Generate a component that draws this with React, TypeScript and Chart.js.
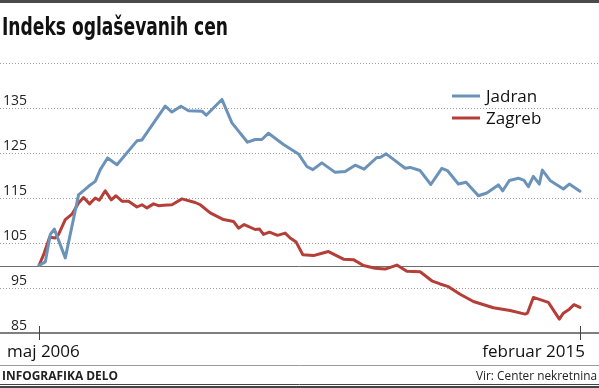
import React, { useEffect, useRef } from "react";
import { Chart, registerables } from "chart.js";

Chart.register(...registerables);

const TITLE = "Indeks oglaševanih cen";
const SERIES_NAMES = ["Jadran", "Zagreb"];
const SERIES_COLORS = ["#6b93b9", "#b53f38"];
const Y_TICKS = [135, 125, 115, 105, 95, 85];
const Y_DOTTED = [145, 135, 125, 115, 105, 95];
const BASE_VALUE = 100;
const Y_MIN = 85;
const Y_MAX = 145;
// months since May 2006
const X_TICKS = [0, 105];
const X_TICK_LABELS = ["maj 2006", "februar 2015"];
const FOOTER_LEFT = "INFOGRAFIKA DELO";
const FOOTER_RIGHT = "Vir: Center nekretnina";

const jadranX = [0, 1.22, 2.19, 2.97, 5.1, 7.68, 9.62, 10.92, 11.89, 13.31, 15.13, 19.01, 19.98, 24.5, 25.8, 27.55, 29.02, 31.62, 32.45, 35.5, 37.44, 40.47, 41.96, 43.26, 44.54, 47.45, 50.36, 51.99, 53.15, 54.9, 57.48, 59.42, 61.36, 63.1, 65.57, 66.21, 67.37, 69.12, 71.06, 72.03, 73.97, 76.04, 78.18, 79.26, 81.4, 82.89, 85.28, 86.91, 89.16, 90.01, 91.29, 93.04, 94.14, 94.98, 95.95, 97.11, 97.69, 99.19, 101.77, 102.93, 105];
const jadranY = [100, 100.8, 106.9, 108.1, 101.7, 115.7, 117.6, 118.7, 121.3, 123.9, 122.4, 127.7, 127.9, 135.4, 134.1, 135.4, 134.4, 134.3, 133.4, 136.9, 131.7, 127.4, 128.0, 128.0, 129.4, 126.9, 124.8, 122.0, 121.3, 122.8, 120.7, 120.9, 122.3, 121.4, 124.0, 124.0, 124.8, 123.3, 121.6, 121.8, 121.1, 118.0, 121.6, 121.1, 118.1, 118.5, 115.5, 116.1, 117.9, 116.6, 118.9, 119.4, 118.9, 117.5, 119.8, 118.1, 121.2, 118.9, 117.0, 118.1, 116.5];

const zagrebX = [0, 0.89, 2.06, 3.16, 3.8, 5.1, 6.4, 7.68, 8.65, 9.82, 10.92, 11.7, 12.86, 14.03, 14.94, 16.1, 17.38, 19.01, 19.98, 20.95, 22.23, 23.2, 24.17, 25.8, 27.74, 30.32, 31.29, 33.23, 35.81, 37.75, 38.72, 39.83, 41.96, 42.79, 43.57, 44.73, 46.29, 47.78, 48.75, 49.91, 51.21, 53.27, 54.57, 56.18, 59.09, 61.03, 62.97, 65.24, 67.18, 69.45, 71.39, 73.97, 76.24, 77.85, 79.46, 81.73, 84.31, 88.19, 91.43, 94.34, 94.79, 95.95, 98.86, 100.99, 101.77, 102.93, 103.84, 105];
const zagrebY = [100, 102.4, 106.3, 106.1, 106.9, 110.2, 111.4, 113.9, 115.1, 113.7, 115.0, 114.5, 116.6, 114.6, 115.5, 114.3, 114.3, 113.0, 113.5, 112.8, 113.7, 113.3, 113.4, 113.5, 114.8, 114.0, 113.5, 111.7, 110.2, 109.8, 108.3, 109.1, 108.0, 108.1, 106.9, 107.4, 106.7, 107.2, 106.1, 105.2, 102.4, 102.2, 102.6, 103.1, 101.4, 101.3, 100.0, 99.4, 99.2, 100.1, 98.7, 98.6, 96.6, 95.9, 95.3, 93.6, 92.0, 90.6, 90.0, 89.2, 89.4, 92.9, 91.8, 88.1, 89.4, 90.3, 91.3, 90.7];

const W = 599;
const H = 388;
const LABEL_FONT = "'Open Sans', 'DejaVu Sans', sans-serif";

const decorPlugin = {
  id: "decor",
  beforeDatasetsDraw(chart: any) {
    const { ctx } = chart;
    const x = chart.scales.x;
    const y = chart.scales.y;
    const w = chart.width;
    ctx.save();
    // top bar
    ctx.fillStyle = "#4a4a4a";
    ctx.fillRect(0, 0, w, 3);
    // title
    ctx.fillStyle = "#111";
    ctx.textAlign = "left";
    ctx.textBaseline = "alphabetic";
    ctx.font = "bold 24px 'Liberation Sans Narrow', 'DejaVu Sans Condensed', sans-serif";
    ctx.fillText(TITLE, 2, 35, 226);

    // dotted grid
    ctx.strokeStyle = "#9c9c9c";
    ctx.lineWidth = 1;
    ctx.setLineDash([1, 2]);
    Y_DOTTED.forEach((v) => {
      const py = Math.round(y.getPixelForValue(v)) + 0.5;
      ctx.beginPath();
      ctx.moveTo(0, py);
      ctx.lineTo(w, py);
      ctx.stroke();
    });
    ctx.setLineDash([]);
    // base 100 line
    {
      const py = Math.round(y.getPixelForValue(BASE_VALUE)) + 0.5;
      ctx.strokeStyle = "#6e6e6e";
      ctx.beginPath();
      ctx.moveTo(0, py);
      ctx.lineTo(w, py);
      ctx.stroke();
    }
    // bottom axis line
    {
      const py = y.getPixelForValue(Y_MIN);
      ctx.strokeStyle = "#555";
      ctx.lineWidth = 1.5;
      ctx.beginPath();
      ctx.moveTo(0, py);
      ctx.lineTo(w, py);
      ctx.stroke();
    }
    // y labels
    ctx.fillStyle = "#222";
    ctx.font = "14px " + LABEL_FONT;
    ctx.textAlign = "right";
    Y_TICKS.forEach((v) => {
      const py = y.getPixelForValue(v);
      ctx.fillText(String(v), 27, py - 3);
    });
    // x ticks
    const by = y.getPixelForValue(Y_MIN);
    ctx.strokeStyle = "#444";
    ctx.lineWidth = 1;
    X_TICKS.forEach((t) => {
      const px = Math.round(x.getPixelForValue(t)) + 0.5;
      ctx.beginPath();
      ctx.moveTo(px, by - 7);
      ctx.lineTo(px, by + 7);
      ctx.stroke();
    });
    ctx.font = "17px " + LABEL_FONT;
    ctx.fillStyle = "#111";
    ctx.textAlign = "left";
    ctx.fillText(X_TICK_LABELS[0], 7, 357);
    ctx.textAlign = "right";
    ctx.fillText(X_TICK_LABELS[1], 585, 357);

    // footer
    ctx.strokeStyle = "#9a9a9a";
    ctx.lineWidth = 1;
    ctx.beginPath();
    ctx.moveTo(0, 365.5);
    ctx.lineTo(w, 365.5);
    ctx.stroke();
    ctx.fillStyle = "#222";
    ctx.textAlign = "left";
    ctx.font = "bold 12px " + LABEL_FONT;
    ctx.fillText(FOOTER_LEFT, 2, 380, 116);
    ctx.textAlign = "right";
    ctx.font = "12px " + LABEL_FONT;
    ctx.fillText(FOOTER_RIGHT, 597, 380, 121);
    ctx.strokeStyle = "#444";
    ctx.beginPath();
    ctx.moveTo(0, 384.5);
    ctx.lineTo(w, 384.5);
    ctx.stroke();
    ctx.lineWidth = 2;
    ctx.beginPath();
    ctx.moveTo(0, 387);
    ctx.lineTo(w, 387);
    ctx.stroke();

    // legend
    ctx.lineWidth = 3;
    ctx.font = "17px " + LABEL_FONT;
    ctx.textAlign = "left";
    const legendY = [96, 118];
    SERIES_NAMES.forEach((name, i) => {
      ctx.strokeStyle = SERIES_COLORS[i];
      ctx.beginPath();
      ctx.moveTo(452, legendY[i]);
      ctx.lineTo(480, legendY[i]);
      ctx.stroke();
      ctx.fillStyle = "#111";
      ctx.fillText(name, 486, legendY[i] + 6);
    });
    ctx.restore();
  },
};

export default function App() {
  const ref = useRef<HTMLCanvasElement>(null);
  useEffect(() => {
    if (!ref.current) return;
    const chart = new Chart(ref.current, {
      type: "line",
      data: {
        datasets: [
          {
            label: SERIES_NAMES[0],
            data: jadranX.map((v, i) => ({ x: v, y: jadranY[i] })),
            borderColor: SERIES_COLORS[0],
            borderWidth: 3,
            pointRadius: 0,
            tension: 0,
            borderJoinStyle: "round",
            borderCapStyle: "round",
            clip: false,
          },
          {
            label: SERIES_NAMES[1],
            data: zagrebX.map((v, i) => ({ x: v, y: zagrebY[i] })),
            borderColor: SERIES_COLORS[1],
            borderWidth: 3,
            pointRadius: 0,
            tension: 0,
            borderJoinStyle: "round",
            borderCapStyle: "round",
            clip: false,
          },
        ],
      },
      options: {
        responsive: false,
        animation: false,
        events: [],
        layout: { padding: { left: 39, right: 19, top: 63, bottom: 55 } },
        scales: {
          x: { type: "linear", min: X_TICKS[0], max: X_TICKS[1], display: false },
          y: { type: "linear", min: Y_MIN, max: Y_MAX, display: false },
        },
        plugins: {
          legend: { display: false },
          title: { display: false },
          tooltip: { enabled: false },
        },
      },
      plugins: [decorPlugin],
    } as any);
    return () => chart.destroy();
  }, []);
  return (
    <div style={{ position: "fixed", left: 0, top: 0, width: W, height: H, background: "#fff" }}>
      <canvas ref={ref} width={W} height={H} style={{ display: "block", width: W, height: H }} />
    </div>
  );
}
